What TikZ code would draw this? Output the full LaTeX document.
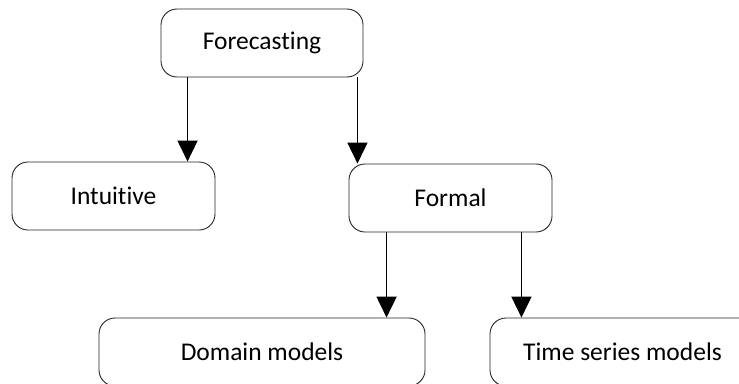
\documentclass[tikz,border=0pt]{standalone}
\usepackage{fontspec}
\setmainfont{Carlito}[Ligatures=NoCommon]
\usetikzlibrary{arrows.meta}

\tikzset{
    box/.style={draw=black!85, line width=0.9pt, rounded corners=16pt,
        minimum height=68pt, inner sep=0pt, font=\fontsize{25.5}{29}\selectfont},
    arr/.style={line width=1.8pt, -{Triangle[width=20pt,length=21pt]}}
}

\begin{document}
\begin{tikzpicture}[x=1pt, y=-1pt]
    \clip (0,0) rectangle (739,383);
    % top level
    \node[box, minimum width=202pt] (fc) at (262,43) {Forecasting};
    % second level
    \node[box, minimum width=203pt] (intu) at (113.5,196) {Intuitive};
    \node[box, minimum width=203pt] (formal) at (450.5,198) {Formal};
    % third level, runs off the page
    \node[box, minimum width=326pt] (domain) at (262,352) {Domain models};
    \node[box, minimum width=265pt] (tsm) at (622.5,352) {Time series models};
    % connectors
    \draw[arr] ([xshift=27pt]fc.south west) -- ([xshift=27pt]fc.south west |- intu.north);
    \draw[arr] ([xshift=-6pt]fc.south east) -- ([xshift=-6pt]fc.south east |- formal.north);
    \draw[arr] ([xshift=38pt]formal.south west) -- ([xshift=38pt]formal.south west |- domain.north);
    \draw[arr] ([xshift=-31pt]formal.south east) -- ([xshift=-31pt]formal.south east |- tsm.north);
\end{tikzpicture}
\end{document}
